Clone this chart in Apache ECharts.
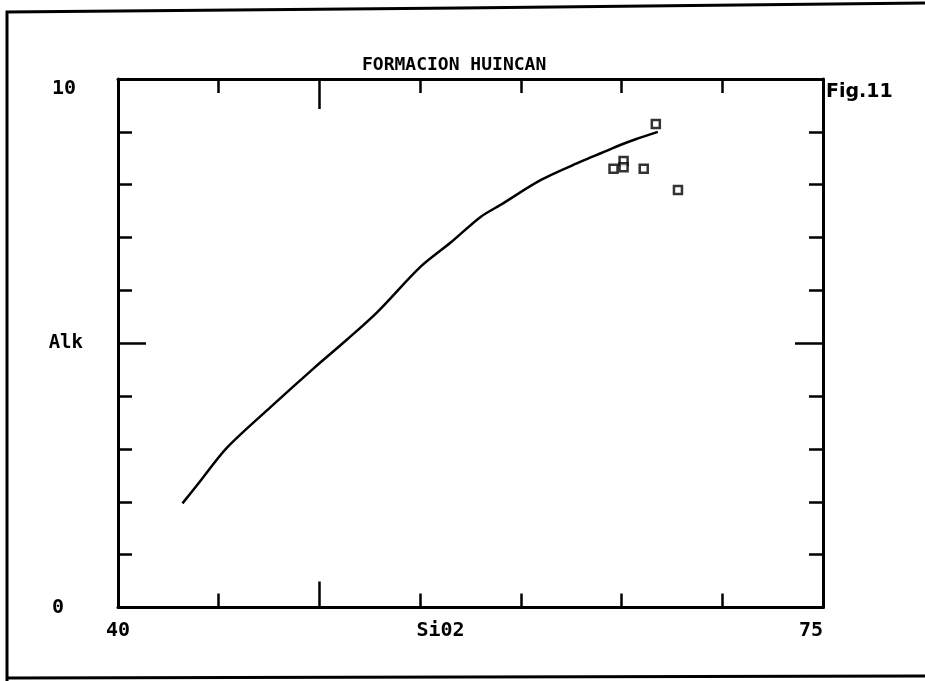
<!DOCTYPE html>
<html>
<head>
<meta charset="utf-8">
<script src="https://cdn.jsdelivr.net/npm/echarts@6/dist/echarts.min.js"></script>
<style>html,body{margin:0;padding:0;background:#fff}#c{width:925px;height:681px}</style>
</head>
<body>
<div id="c"></div>
<script>
// Trend curve (SiO2 vs Alk)
const curveSiO2 = [43.2, 44.0, 45.4, 47.6, 49.7, 51.4, 52.9, 55.0, 56.5, 58.0, 59.0, 61.0, 63.0, 64.0, 65.0, 65.7, 66.8];
const curveAlk  = [1.97, 2.35, 3.02, 3.80, 4.52, 5.08, 5.60, 6.44, 6.90, 7.39, 7.62, 8.09, 8.44, 8.60, 8.76, 8.86, 9.00];
// Sample points
const sampleSiO2 = [66.7, 64.6, 65.1, 65.1, 66.1, 67.8];
const sampleAlk  = [9.15, 8.30, 8.45, 8.33, 8.30, 7.90];
// Axis ticks / labels
const xMin = 40, xMax = 75, xStep = 5;
const yMin = 0, yMax = 10, yStep = 1;
const xLabels = [40, 75];
const yLabels = [0, 10];
const xLongTicks = [50];
const yLongTicks = [5];
const titleText = 'FORMACION HUINCAN';
const xName = 'Si02';
const yName = 'Alk';
const figText = 'Fig.11';

const MONO = '"DejaVu Sans Mono", monospace';
const black = '#000';

const grid = { left: 118, right: 102, top: 79, bottom: 73.5 };

function baseX(pos, extra) {
  return Object.assign({
    type: 'value', min: xMin, max: xMax, interval: xStep, position: pos,
    axisLine: { show: true, onZero: false, lineStyle: { color: black, width: 3 } },
    axisTick: { show: true, inside: true, length: 14, lineStyle: { color: black, width: 2.5 } },
    axisLabel: { show: false },
    splitLine: { show: false }
  }, extra || {});
}
function baseY(pos, extra) {
  return Object.assign({
    type: 'value', min: yMin, max: yMax, interval: yStep, position: pos,
    axisLine: { show: true, onZero: false, lineStyle: { color: black, width: 3 } },
    axisTick: { show: true, inside: true, length: 14, lineStyle: { color: black, width: 2.5 } },
    axisLabel: { show: false },
    splitLine: { show: false }
  }, extra || {});
}

const chart = echarts.init(document.getElementById('c'), null, { renderer: 'canvas' });
chart.setOption({
  backgroundColor: '#fff',
  animation: false,
  title: {
    text: titleText, left: 357, top: 51,
    textStyle: { fontFamily: MONO, fontSize: 18, fontWeight: 'bold', color: black }
  },
  grid: [
    Object.assign({}, grid),
    Object.assign({}, grid)
  ],
  xAxis: [
    baseX('bottom', {
      gridIndex: 0,
      name: xName, nameLocation: 'middle', nameGap: 13, nameMoveOverlap: false,
      nameTextStyle: { fontFamily: MONO, fontSize: 20, fontWeight: 'bold', color: black, padding: [0, 60, 0, 0], verticalAlign: 'top' },
      axisLabel: {
        show: true, customValues: xLabels, margin: 13, alignMaxLabel: 'right',
        fontFamily: MONO, fontSize: 20, fontWeight: 'bold', color: black
      }
    }),
    baseX('top', { gridIndex: 0 }),
    baseX('bottom', { gridIndex: 1, axisLine: { show: false, onZero: false },
      axisTick: { show: true, inside: true, length: 26, customValues: xLongTicks, lineStyle: { color: black, width: 2.5 } } }),
    baseX('top', { gridIndex: 1, axisLine: { show: false, onZero: false },
      axisTick: { show: true, inside: true, length: 30, customValues: xLongTicks, lineStyle: { color: black, width: 2.5 } } })
  ],
  yAxis: [
    baseY('left', {
      gridIndex: 0,
      name: yName, nameLocation: 'middle', nameGap: 35, nameRotate: 0, nameMoveOverlap: false,
      nameTextStyle: { fontFamily: MONO, fontSize: 19, fontWeight: 'bold', color: black },
      axisLabel: {
        show: true, customValues: yLabels, margin: 66, align: 'left',
        fontFamily: MONO, fontSize: 20, fontWeight: 'bold', color: black,
        formatter: function (v) { return v === yMax ? '{t|' + v + '}' : '{b|' + v + '}'; },
        rich: {
          t: { fontFamily: MONO, fontSize: 20, fontWeight: 'bold', color: black, padding: [20, 0, 0, 0] },
          b: { fontFamily: MONO, fontSize: 20, fontWeight: 'bold', color: black, padding: [0, 0, 0, 0] }
        }
      }
    }),
    baseY('right', { gridIndex: 0 }),
    baseY('left', { gridIndex: 1, axisLine: { show: false, onZero: false },
      axisTick: { show: true, inside: true, length: 28, customValues: yLongTicks, lineStyle: { color: black, width: 2.5 } } }),
    baseY('right', { gridIndex: 1, axisLine: { show: false, onZero: false },
      axisTick: { show: true, inside: true, length: 28, customValues: yLongTicks, lineStyle: { color: black, width: 2.5 } } })
  ],
  graphic: [
    { type: 'text', left: 826, top: 83,
      style: { text: figText, font: 'bold 19px "DejaVu Sans", sans-serif', fill: black } },
    { type: 'polyline', silent: true,
      shape: { points: [[7, 681], [7, 12], [460, 8], [925, 3]] },
      style: { stroke: black, lineWidth: 3, fill: null } },
    { type: 'line', silent: true,
      shape: { x1: 7, y1: 678, x2: 925, y2: 676 },
      style: { stroke: black, lineWidth: 3 } }
  ],
  series: [
    {
      type: 'line', xAxisIndex: 0, yAxisIndex: 0,
      data: curveSiO2.map((x, i) => [x, curveAlk[i]]),
      showSymbol: false, symbol: 'none', smooth: 0.3,
      lineStyle: { color: black, width: 2.5 }
    },
    {
      type: 'scatter', xAxisIndex: 0, yAxisIndex: 0,
      data: sampleSiO2.map((x, i) => [x, sampleAlk[i]]),
      symbol: 'rect', symbolSize: 8,
      itemStyle: { color: '#fff', borderColor: black, borderWidth: 2.5 }
    }
  ]
});
</script>
</body>
</html>
